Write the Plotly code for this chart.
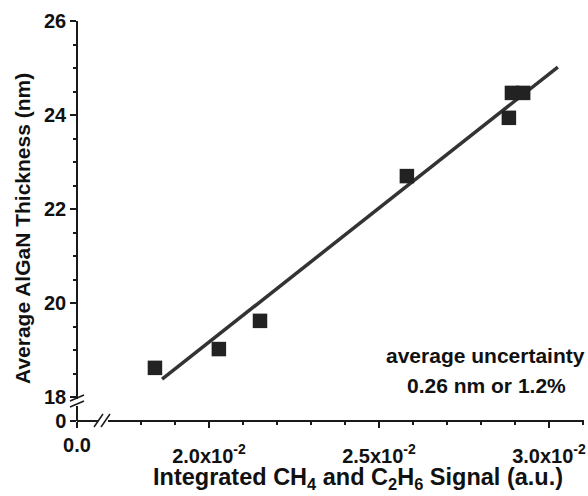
import plotly.graph_objects as go

# ---- data ----
signal = [0.01841, 0.02029, 0.02150, 0.02582, 0.02882, 0.02891, 0.02924]
thickness = [18.62, 19.02, 19.62, 22.70, 23.94, 24.47, 24.47]
fit_x = [0.01862, 0.03026]
fit_y = [18.38, 25.02]
x_tickvals = [0.020, 0.025, 0.030]
x_ticktext = ["2.0x10<sup>-2</sup>", "2.5x10<sup>-2</sup>", "3.0x10<sup>-2</sup>"]
y_tickvals = [18, 20, 22, 24, 26]

W, H = 588, 496
def fx(px):
    return px / W
def fy(py):
    return 1 - py / H

FONT = "Liberation Sans, Arial, sans-serif"
AX = "#1a1a1a"
TXT = "#111111"

fig = go.Figure()
fig.add_trace(go.Scatter(x=fit_x, y=fit_y, mode="lines",
                         line=dict(color="#333333", width=3.5),
                         xaxis="x", yaxis="y", showlegend=False, hoverinfo="skip"))
fig.add_trace(go.Scatter(x=signal, y=thickness, mode="markers",
                         marker=dict(symbol="square", size=14.5, color="#222222"),
                         xaxis="x", yaxis="y", showlegend=False, cliponaxis=False))
# empty trace so the broken-off "0" axis stubs are drawn
fig.add_trace(go.Scatter(x=[None], y=[None], xaxis="x2", yaxis="y2", showlegend=False))

tickfont = dict(family=FONT, size=20, color=TXT, weight="bold")

x0 = 0.02 + (108 - 209) / 340 * 0.01
x1 = 0.02 + (584 - 209) / 340 * 0.01
y0 = 18 - 2 / 47.0

common = dict(showgrid=False, zeroline=False, showline=True, linecolor=AX, linewidth=1.5,
              ticks="outside", ticklen=6, tickwidth=1.5, tickcolor=AX, tickfont=tickfont,
              automargin=False)

fig.update_layout(
    width=W, height=H,
    margin=dict(l=0, r=0, t=0, b=0, autoexpand=False),
    paper_bgcolor="white", plot_bgcolor="rgba(0,0,0,0)",
    xaxis=dict(domain=[fx(108), fx(584)], range=[x0, x1], anchor="free", position=fy(421),
               tickmode="array", tickvals=x_tickvals, ticktext=x_ticktext,
               ticklabelstandoff=11,
               minor=dict(tickmode="linear", tick0=0.0, dtick=0.001, ticks="outside",
                          ticklen=3.5, tickwidth=1.5, tickcolor=AX),
               **common),
    yaxis=dict(domain=[fy(399), fy(21)], range=[y0, 26], anchor="free", position=fx(77),
               tickmode="array", tickvals=y_tickvals,
               minor=dict(tickmode="linear", tick0=18, dtick=0.5, ticks="outside",
                          ticklen=3.5, tickwidth=1.5, tickcolor=AX),
               **common),
    xaxis2=dict(domain=[fx(77), fx(98)], range=[0, 1], anchor="free", position=fy(421),
                tickmode="array", tickvals=[0], ticktext=["0.0"], **common),
    yaxis2=dict(domain=[fy(421), fy(406)], range=[0, 1], anchor="free", position=fx(77),
                tickmode="array", tickvals=[0], ticktext=["0"], **common),
)

# axis titles
fig.add_annotation(xref="paper", yref="paper", x=fx(358), y=fy(478),
                   text="<b>Integrated CH<sub>4</sub> and C<sub>2</sub>H<sub>6</sub> Signal (a.u.)</b>",
                   showarrow=False, xanchor="center", yanchor="middle",
                   font=dict(family=FONT, size=23.5, color=TXT))
fig.add_annotation(xref="paper", yref="paper", x=fx(22), y=fy(229),
                   text="<b>Average AlGaN Thickness (nm)</b>", textangle=-90,
                   showarrow=False, xanchor="center", yanchor="middle",
                   font=dict(family=FONT, size=21, color=TXT))

# axis break marks
brk = dict(color=AX, width=1.5)
for (xa, ya, xb, yb) in [(70, 401, 84, 395), (70, 407, 84, 401),
                         (94, 427, 103, 414), (101, 427, 110, 414)]:
    fig.add_shape(type="line", xref="paper", yref="paper",
                  x0=fx(xa), y0=fy(ya), x1=fx(xb), y1=fy(yb), line=brk)

annfont = dict(family=FONT, size=21, color=TXT, weight="bold")
fig.add_annotation(xref="paper", yref="paper", x=fx(485), y=fy(355), text="average uncertainty",
                   showarrow=False, font=annfont, xanchor="center", yanchor="middle")
fig.add_annotation(xref="paper", yref="paper", x=fx(486), y=fy(385), text="0.26 nm or 1.2%",
                   showarrow=False, font=annfont, xanchor="center", yanchor="middle")

fig.write_html("out.html", config={"displayModeBar": False},
               post_script="document.body.style.margin='0';document.body.style.padding='0';")
